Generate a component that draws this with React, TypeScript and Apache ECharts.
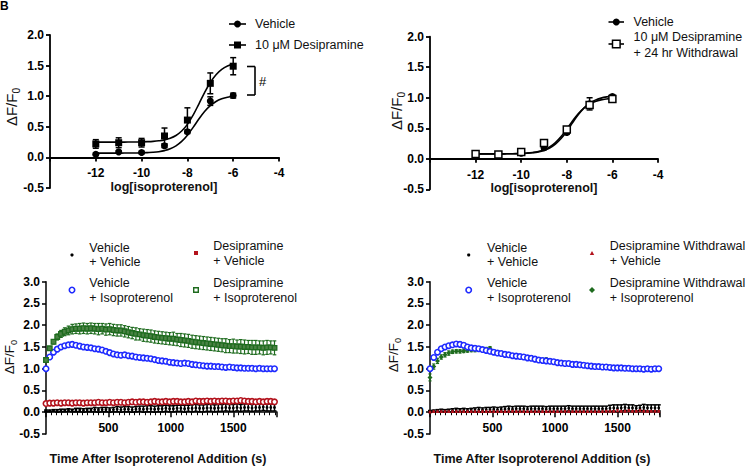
import React, { useEffect, useRef } from "react";
import * as echarts from "echarts";

const FONT = '"Liberation Sans", Arial, Helvetica, sans-serif';

// ---------- Panel A / B : concentration-response ----------
const logConc = [-12, -11, -10, -9, -8, -7, -6];
const aVehicle = [0.05, 0.09, 0.08, 0.19, 0.42, 0.92, 1.01];
const aVehicleErr = [0.02, 0.02, 0.02, 0.03, 0.03, 0.07, 0.04];
const aDesip = [0.22, 0.24, 0.24, 0.35, 0.61, 1.21, 1.49];
const aDesipErr = [0.07, 0.08, 0.07, 0.13, 0.2, 0.17, 0.14];
const fitX = [-12, -11.75, -11.5, -11.25, -11, -10.75, -10.5, -10.25, -10, -9.75, -9.5, -9.25, -9, -8.75, -8.5, -8.25, -8, -7.75, -7.5, -7.25, -7, -6.75, -6.5, -6.25, -6];
const aVehicleFit = [0.07, 0.07, 0.07, 0.07, 0.07, 0.071, 0.071, 0.072, 0.074, 0.078, 0.083, 0.093, 0.111, 0.14, 0.188, 0.261, 0.363, 0.491, 0.626, 0.75, 0.846, 0.914, 0.957, 0.984, 0.999];
const aDesipFit = [0.25, 0.25, 0.25, 0.25, 0.25, 0.25, 0.251, 0.252, 0.254, 0.257, 0.262, 0.271, 0.286, 0.313, 0.358, 0.431, 0.54, 0.691, 0.872, 1.059, 1.224, 1.351, 1.437, 1.492, 1.525];

const bVehicle = [0.07, 0.07, 0.09, 0.18, 0.43, 0.9, 1.02];
const bVehicleErr = [0.02, 0.02, 0.02, 0.03, 0.03, 0.1, 0.03];
const bWithdrawal = [0.08, 0.07, 0.11, 0.26, 0.48, 0.88, 0.98];
const bWithdrawalErr = [0.02, 0.02, 0.02, 0.04, 0.04, 0.05, 0.03];
const bVehicleFit = [0.08, 0.08, 0.08, 0.08, 0.08, 0.081, 0.082, 0.083, 0.086, 0.091, 0.099, 0.113, 0.137, 0.177, 0.24, 0.331, 0.451, 0.588, 0.72, 0.829, 0.909, 0.961, 0.994, 1.014, 1.025];
const bWithdrawalFit = [0.08, 0.08, 0.08, 0.08, 0.08, 0.081, 0.082, 0.084, 0.087, 0.093, 0.103, 0.119, 0.148, 0.194, 0.265, 0.364, 0.487, 0.619, 0.738, 0.832, 0.897, 0.939, 0.965, 0.98, 0.989];

// ---------- Panel C / D : time course ----------
const timeS = [0, 30, 60, 90, 120, 150, 180, 210, 240, 270, 300, 330, 360, 390, 420, 450, 480, 510, 540, 570, 600, 630, 660, 690, 720, 750, 780, 810, 840, 870, 900, 930, 960, 990, 1020, 1050, 1080, 1110, 1140, 1170, 1200, 1230, 1260, 1290, 1320, 1350, 1380, 1410, 1440, 1470, 1500, 1530, 1560, 1590, 1620, 1650, 1680, 1710, 1740, 1770, 1800, 1830];

const cVehVeh = [0.03, 0.03, 0.04, 0.03, 0.04, 0.04, 0.05, 0.04, 0.05, 0.05, 0.04, 0.05, 0.05, 0.06, 0.05, 0.06, 0.06, 0.05, 0.06, 0.07, 0.06, 0.07, 0.07, 0.06, 0.07, 0.08, 0.07, 0.08, 0.08, 0.07, 0.08, 0.08, 0.09, 0.08, 0.08, 0.09, 0.09, 0.08, 0.09, 0.09, 0.1, 0.09, 0.09, 0.1, 0.1, 0.09, 0.1, 0.1, 0.11, 0.1, 0.1, 0.11, 0.1, 0.11, 0.11, 0.1, 0.11, 0.11, 0.12, 0.11, 0.11, 0.11];
const cVehVehErr = [0.02, 0.02, 0.02, 0.03, 0.03, 0.03, 0.03, 0.03, 0.04, 0.04, 0.04, 0.04, 0.04, 0.05, 0.05, 0.05, 0.05, 0.05, 0.05, 0.06, 0.06, 0.06, 0.06, 0.06, 0.06, 0.06, 0.07, 0.07, 0.07, 0.07, 0.07, 0.07, 0.07, 0.07, 0.07, 0.07, 0.07, 0.08, 0.07, 0.08, 0.08, 0.08, 0.08, 0.08, 0.08, 0.08, 0.08, 0.08, 0.08, 0.08, 0.08, 0.08, 0.08, 0.08, 0.08, 0.08, 0.08, 0.08, 0.08, 0.08, 0.08, 0.08];
const cDesVeh = [0.2, 0.21, 0.21, 0.22, 0.21, 0.22, 0.22, 0.21, 0.22, 0.22, 0.21, 0.22, 0.22, 0.22, 0.23, 0.22, 0.22, 0.23, 0.22, 0.23, 0.23, 0.22, 0.23, 0.24, 0.23, 0.24, 0.24, 0.23, 0.24, 0.25, 0.24, 0.24, 0.25, 0.24, 0.25, 0.25, 0.24, 0.24, 0.25, 0.24, 0.26, 0.25, 0.25, 0.26, 0.25, 0.26, 0.25, 0.26, 0.26, 0.25, 0.26, 0.26, 0.27, 0.26, 0.25, 0.25, 0.24, 0.25, 0.24, 0.25, 0.25, 0.24];
const cDesVehErr = [0.03, 0.03, 0.03, 0.03, 0.03, 0.03, 0.03, 0.03, 0.03, 0.03, 0.03, 0.03, 0.03, 0.03, 0.03, 0.03, 0.03, 0.03, 0.03, 0.03, 0.03, 0.03, 0.03, 0.04, 0.03, 0.03, 0.04, 0.03, 0.03, 0.04, 0.03, 0.04, 0.04, 0.03, 0.04, 0.04, 0.03, 0.04, 0.04, 0.04, 0.04, 0.04, 0.04, 0.04, 0.04, 0.04, 0.04, 0.04, 0.04, 0.04, 0.04, 0.04, 0.04, 0.04, 0.04, 0.04, 0.04, 0.04, 0.04, 0.04, 0.04, 0.04];
const cVehIso = [1.0, 1.27, 1.38, 1.45, 1.5, 1.53, 1.55, 1.56, 1.54, 1.52, 1.5, 1.49, 1.48, 1.46, 1.45, 1.43, 1.4, 1.37, 1.34, 1.32, 1.31, 1.32, 1.3, 1.29, 1.27, 1.26, 1.25, 1.24, 1.23, 1.21, 1.19, 1.18, 1.17, 1.15, 1.14, 1.13, 1.12, 1.13, 1.12, 1.1, 1.09, 1.08, 1.07, 1.06, 1.06, 1.05, 1.05, 1.04, 1.03, 1.04, 1.03, 1.02, 1.02, 1.01, 1.01, 1.01, 1.0, 1.01, 1.0, 1.0, 1.0, 1.0];
const cVehIsoErr = [0.02, 0.03, 0.03, 0.04, 0.04, 0.04, 0.04, 0.05, 0.04, 0.04, 0.04, 0.05, 0.04, 0.04, 0.05, 0.04, 0.04, 0.05, 0.04, 0.04, 0.05, 0.04, 0.04, 0.04, 0.05, 0.04, 0.04, 0.04, 0.05, 0.04, 0.04, 0.05, 0.04, 0.04, 0.05, 0.04, 0.04, 0.05, 0.04, 0.04, 0.05, 0.04, 0.04, 0.05, 0.04, 0.04, 0.05, 0.04, 0.04, 0.05, 0.04, 0.04, 0.05, 0.04, 0.04, 0.05, 0.04, 0.04, 0.05, 0.04, 0.04, 0.05];
const cDesIso = [1.2, 1.47, 1.62, 1.73, 1.8, 1.85, 1.88, 1.91, 1.92, 1.92, 1.93, 1.92, 1.93, 1.92, 1.91, 1.92, 1.9, 1.91, 1.89, 1.88, 1.88, 1.86, 1.84, 1.82, 1.8, 1.79, 1.77, 1.76, 1.75, 1.73, 1.72, 1.71, 1.7, 1.69, 1.69, 1.67, 1.66, 1.65, 1.64, 1.62, 1.61, 1.6, 1.59, 1.58, 1.57, 1.56, 1.55, 1.54, 1.53, 1.52, 1.52, 1.51, 1.51, 1.5, 1.5, 1.49, 1.49, 1.49, 1.48, 1.49, 1.49, 1.48];
const cDesIsoErr = [0.03, 0.04, 0.05, 0.07, 0.08, 0.09, 0.1, 0.11, 0.11, 0.12, 0.12, 0.12, 0.12, 0.12, 0.13, 0.12, 0.13, 0.13, 0.13, 0.13, 0.13, 0.13, 0.13, 0.13, 0.14, 0.13, 0.14, 0.14, 0.14, 0.14, 0.14, 0.14, 0.14, 0.14, 0.15, 0.14, 0.15, 0.15, 0.15, 0.15, 0.15, 0.15, 0.15, 0.15, 0.15, 0.15, 0.15, 0.15, 0.16, 0.15, 0.16, 0.15, 0.16, 0.16, 0.15, 0.16, 0.16, 0.15, 0.16, 0.16, 0.15, 0.16];

const dVehVeh = [0.02, 0.03, 0.03, 0.04, 0.03, 0.04, 0.04, 0.05, 0.04, 0.05, 0.04, 0.05, 0.05, 0.06, 0.05, 0.06, 0.06, 0.07, 0.06, 0.07, 0.07, 0.08, 0.07, 0.08, 0.08, 0.08, 0.07, 0.08, 0.08, 0.08, 0.08, 0.07, 0.08, 0.08, 0.08, 0.08, 0.08, 0.09, 0.08, 0.08, 0.08, 0.08, 0.08, 0.08, 0.08, 0.08, 0.08, 0.08, 0.09, 0.1, 0.09, 0.1, 0.11, 0.1, 0.1, 0.09, 0.1, 0.11, 0.1, 0.1, 0.1, 0.1];
const dVehVehErr = [0.02, 0.02, 0.03, 0.03, 0.03, 0.03, 0.04, 0.04, 0.04, 0.04, 0.04, 0.04, 0.05, 0.05, 0.05, 0.05, 0.05, 0.05, 0.05, 0.05, 0.06, 0.06, 0.06, 0.06, 0.06, 0.06, 0.06, 0.06, 0.06, 0.06, 0.06, 0.06, 0.06, 0.06, 0.06, 0.06, 0.06, 0.06, 0.06, 0.06, 0.06, 0.06, 0.06, 0.06, 0.06, 0.06, 0.06, 0.06, 0.07, 0.07, 0.08, 0.07, 0.07, 0.07, 0.07, 0.06, 0.06, 0.07, 0.07, 0.07, 0.07, 0.07];
const dWdVeh = [0.01, 0.02, 0.02, 0.02, 0.02, 0.02, 0.02, 0.02, 0.02, 0.02, 0.02, 0.02, 0.02, 0.02, 0.02, 0.02, 0.02, 0.02, 0.02, 0.02, 0.02, 0.02, 0.03, 0.02, 0.02, 0.02, 0.02, 0.02, 0.02, 0.02, 0.02, 0.02, 0.02, 0.02, 0.02, 0.02, 0.03, 0.02, 0.02, 0.02, 0.02, 0.02, 0.02, 0.02, 0.02, 0.02, 0.02, 0.03, 0.03, 0.03, 0.04, 0.03, 0.03, 0.04, 0.03, 0.03, 0.04, 0.03, 0.03, 0.03, 0.03, 0.03];
const dWdVehErr = [0.01, 0.01, 0.01, 0.01, 0.01, 0.01, 0.01, 0.01, 0.01, 0.01, 0.01, 0.01, 0.01, 0.01, 0.01, 0.01, 0.01, 0.01, 0.01, 0.01, 0.01, 0.01, 0.01, 0.01, 0.01, 0.01, 0.01, 0.01, 0.01, 0.01, 0.01, 0.01, 0.01, 0.01, 0.01, 0.01, 0.01, 0.01, 0.01, 0.01, 0.01, 0.01, 0.01, 0.01, 0.01, 0.01, 0.01, 0.01, 0.01, 0.01, 0.02, 0.01, 0.01, 0.02, 0.01, 0.01, 0.02, 0.01, 0.01, 0.01, 0.01, 0.01];
const dVehIso = [1.0, 1.26, 1.38, 1.46, 1.5, 1.53, 1.55, 1.57, 1.56, 1.54, 1.5, 1.48, 1.47, 1.46, 1.44, 1.42, 1.4, 1.38, 1.36, 1.35, 1.33, 1.32, 1.3, 1.29, 1.28, 1.27, 1.25, 1.24, 1.22, 1.2, 1.19, 1.18, 1.17, 1.16, 1.14, 1.13, 1.12, 1.12, 1.1, 1.1, 1.09, 1.08, 1.07, 1.06, 1.05, 1.05, 1.04, 1.04, 1.03, 1.02, 1.02, 1.02, 1.01, 1.01, 1.0, 1.0, 1.0, 0.99, 1.0, 0.99, 1.0, 1.0];
const dVehIsoErr = [0.02, 0.03, 0.04, 0.04, 0.05, 0.05, 0.05, 0.05, 0.05, 0.05, 0.05, 0.05, 0.05, 0.05, 0.05, 0.05, 0.05, 0.05, 0.05, 0.05, 0.05, 0.05, 0.05, 0.05, 0.05, 0.05, 0.05, 0.05, 0.05, 0.05, 0.05, 0.05, 0.05, 0.05, 0.05, 0.05, 0.05, 0.05, 0.05, 0.05, 0.05, 0.05, 0.05, 0.05, 0.05, 0.05, 0.05, 0.05, 0.05, 0.05, 0.05, 0.05, 0.05, 0.05, 0.05, 0.05, 0.05, 0.05, 0.05, 0.05, 0.05, 0.05];
const dWdIso = [0.8, 1.05, 1.18, 1.27, 1.32, 1.36, 1.39, 1.4, 1.4, 1.41, 1.42, 1.43, 1.43, 1.44, 1.44, 1.45, 1.47, 1.39, 1.37, 1.34, 1.32, 1.31, 1.3, 1.28, 1.28, 1.27, 1.26, 1.25, 1.23, 1.21, 1.2, 1.21, 1.18, 1.16, 1.14, 1.13, 1.12, 1.12, 1.11, 1.1, 1.09, 1.08, 1.07, 1.06, 1.05, 1.05, 1.04, 1.04, 1.03, 1.02, 1.02, 1.02, 1.01, 1.01, 1.0, 1.0, 1.0, 0.99, 1.0, 0.99, 1.0, 1.0];
const dWdIsoErr = [0.08, 0.06, 0.06, 0.05, 0.05, 0.05, 0.04, 0.04, 0.04, 0.04, 0.04, 0.04, 0.04, 0.04, 0.04, 0.04, 0.04, 0.04, 0.04, 0.04, 0.04, 0.04, 0.04, 0.04, 0.04, 0.04, 0.04, 0.04, 0.04, 0.04, 0.04, 0.04, 0.04, 0.04, 0.04, 0.04, 0.04, 0.04, 0.04, 0.04, 0.04, 0.04, 0.04, 0.04, 0.04, 0.04, 0.04, 0.04, 0.04, 0.04, 0.04, 0.04, 0.04, 0.04, 0.04, 0.04, 0.04, 0.04, 0.04, 0.04, 0.04, 0.04];

const BLACK = "#000000";
const BLUE = "#1f2bff";
const RED = "#b3121c";
const GREEN = "#1e6b1e";

const zip = (xs: number[], ys: number[]) => xs.map((x, i) => [x, ys[i]]);

function errSeries(gi: number, xs: number[], ys: number[], es: number[], color: string, cap: number, lw: number, z: number) {
  return {
    type: "custom",
    xAxisIndex: gi,
    yAxisIndex: gi,
    z,
    silent: true,
    clip: false,
    data: xs.map((x, i) => [x, ys[i] - es[i], ys[i] + es[i]]),
    encode: { x: 0, y: [1, 2] },
    renderItem: (_p: any, api: any) => {
      const lo = api.coord([api.value(0), api.value(1)]);
      const hi = api.coord([api.value(0), api.value(2)]);
      const st = { stroke: color, lineWidth: lw };
      return {
        type: "group",
        children: [
          { type: "line", shape: { x1: lo[0], y1: lo[1], x2: hi[0], y2: hi[1] }, style: st },
          { type: "line", shape: { x1: hi[0] - cap, y1: hi[1], x2: hi[0] + cap, y2: hi[1] }, style: st },
          { type: "line", shape: { x1: lo[0] - cap, y1: lo[1], x2: lo[0] + cap, y2: lo[1] }, style: st },
        ],
      };
    },
  };
}

function scatter(gi: number, xs: number[], ys: number[], symbol: string, size: number, fill: string, stroke: string, bw: number, z: number) {
  return {
    type: "scatter",
    xAxisIndex: gi,
    yAxisIndex: gi,
    z,
    silent: true,
    symbol,
    symbolSize: size,
    itemStyle: { color: fill, borderColor: stroke, borderWidth: bw, opacity: 1 },
    data: zip(xs, ys),
  };
}

function fitLine(gi: number, xs: number[], ys: number[]) {
  return {
    type: "line",
    xAxisIndex: gi,
    yAxisIndex: gi,
    z: 2,
    silent: true,
    smooth: 0.4,
    showSymbol: false,
    symbol: "none",
    lineStyle: { color: BLACK, width: 1.6 },
    data: zip(xs, ys),
  };
}

function yAxisOf(gi: number, max: number, lw: number) {
  return {
    type: "value",
    gridIndex: gi,
    min: -0.5,
    max,
    interval: 0.5,
    axisLine: { show: true, onZero: false, lineStyle: { color: BLACK, width: lw } },
    axisTick: { show: true, length: 4, lineStyle: { color: BLACK, width: lw } },
    axisLabel: {
      color: BLACK, fontFamily: FONT, fontWeight: "bold", fontSize: 12, margin: 6,
      formatter: (v: number) => v.toFixed(1),
    },
    splitLine: { show: false },
  };
}

// x axis sits at y = 0: offset it upward from the grid bottom by the share of the -0.5..0 band
function xAxisTop(gi: number, gridH: number) {
  return {
    type: "value",
    gridIndex: gi,
    position: "bottom",
    offset: -(gridH * 0.5) / 2.5,
    min: -14,
    max: -4,
    interval: 2,
    axisLine: { show: true, onZero: false, lineStyle: { color: BLACK, width: 1.8 } },
    axisTick: { show: true, length: 4, lineStyle: { color: BLACK, width: 1.8 } },
    axisLabel: {
      color: BLACK, fontFamily: FONT, fontWeight: "bold", fontSize: 12, margin: 10,
      formatter: (v: number) => (v === -14 ? "" : String(v)),
    },
    splitLine: { show: false },
  };
}

function xAxisTime(gi: number, max: number, gridH: number) {
  return {
    type: "value",
    gridIndex: gi,
    position: "bottom",
    offset: -(gridH * 0.5) / 3.5,
    min: 0,
    max,
    interval: 500,
    axisLine: { show: true, onZero: false, lineStyle: { color: BLACK, width: 1.5 } },
    axisTick: { show: true, length: 5, lineStyle: { color: BLACK, width: 1.5 } },
    minorTick: { show: true, splitNumber: 12, length: 3, lineStyle: { color: BLACK, width: 1 } },
    axisLabel: {
      color: BLACK, fontFamily: FONT, fontWeight: "bold", fontSize: 12, margin: 10,
      formatter: (v: number) => (v > 0 && v % 500 === 0 ? String(v) : ""),
    },
    splitLine: { show: false },
    minorSplitLine: { show: false },
  };
}

const txt = (x: number, y: number, text: string, extra: any = {}) => ({
  type: "text",
  x,
  y,
  silent: true,
  style: {
    text,
    fill: "#111",
    font: `12.5px ${FONT}`,
    textAlign: "left",
    textVerticalAlign: "middle",
    ...extra,
  },
});

const yTitle = (x: number, y: number, size: number) => ({
  type: "text",
  x,
  y,
  rotation: Math.PI / 2,
  silent: true,
  style: {
    text: "{m|ΔF/F}{s|0}",
    textAlign: "center",
    textVerticalAlign: "middle",
    rich: {
      m: { fontFamily: FONT, fontSize: size, fill: "#111", lineHeight: size + 6, verticalAlign: "middle" },
      s: { fontFamily: FONT, fontSize: size * 0.68, fill: "#111", verticalAlign: "bottom", lineHeight: size * 0.9 },
    },
  },
});

const xTitle = (x: number, y: number, text: string) => ({
  type: "text",
  x,
  y,
  silent: true,
  style: {
    text,
    fill: "#111",
    font: `bold 12.5px ${FONT}`,
    textAlign: "center",
    textVerticalAlign: "middle",
  },
});

const lineEl = (x1: number, y1: number, x2: number, y2: number, w = 1.6) => ({
  type: "line",
  silent: true,
  shape: { x1, y1, x2, y2 },
  style: { stroke: BLACK, lineWidth: w },
});

const GRID_A = { left: 50, top: 35, width: 229, height: 153 };
const GRID_B = { left: 430, top: 36.7, width: 228, height: 152.6 };
const GRID_C = { left: 46, top: 281.7, width: 231, height: 152.3 };
const GRID_D = { left: 430, top: 281.7, width: 230, height: 152.3 };

export default function App() {
  const ref = useRef<HTMLDivElement>(null);
  useEffect(() => {
    if (!ref.current) return;
    const chart = echarts.init(ref.current, null, { renderer: "svg" });

    const graphic: any[] = [
      // panel letter (cropped in the source)
      { type: "text", x: 0, y: 0, silent: true, style: { text: "B", font: `bold 12px ${FONT}`, fill: "#000" } },
      // axis titles
      yTitle(11, 107, 15),
      yTitle(396, 111, 15),
      yTitle(9, 357, 13.5),
      yTitle(393, 355, 13.5),
      xTitle(164, 187, "log[isoproterenol]"),
      xTitle(544, 188, "log[isoproterenol]"),
      xTitle(158, 459, "Time After Isoproterenol Addition (s)"),
      xTitle(542, 459, "Time After Isoproterenol Addition (s)"),
      // significance bracket panel A
      lineEl(247, 66.5, 255, 66.5),
      lineEl(255, 66.5, 255, 95),
      lineEl(247, 95, 255, 95),
      txt(259, 81, "#", { font: `13px ${FONT}`, fill: "#000" }),
      // legend A
      lineEl(229, 24, 246, 24),
      { type: "circle", silent: true, shape: { cx: 237.5, cy: 24, r: 3.5 }, style: { fill: BLACK } },
      txt(255, 24, "Vehicle"),
      lineEl(229, 45, 246, 45),
      { type: "rect", silent: true, shape: { x: 234, y: 41.5, width: 7, height: 7 }, style: { fill: BLACK } },
      txt(255, 45, "10 μM Desipramine"),
      // legend B
      lineEl(608.5, 22, 624, 22),
      { type: "circle", silent: true, shape: { cx: 616.3, cy: 22, r: 3.5 }, style: { fill: BLACK } },
      txt(633.5, 22, "Vehicle"),
      lineEl(608.5, 44, 624, 44),
      { type: "rect", silent: true, shape: { x: 612.5, y: 40.2, width: 7.6, height: 7.6 }, style: { fill: "#fff", stroke: BLACK, lineWidth: 1.5 } },
      txt(633.5, 45, "10 μM Desipramine\n+ 24 hr Withdrawal", { lineHeight: 15.5 }),
      // legend C
      { type: "circle", silent: true, shape: { cx: 72, cy: 255, r: 1.6 }, style: { fill: BLACK } },
      txt(89.3, 255, "Vehicle\n+ Vehicle", { lineHeight: 14.6 }),
      { type: "circle", silent: true, shape: { cx: 72, cy: 290, r: 2.7 }, style: { fill: "#fff", stroke: BLUE, lineWidth: 1.6 } },
      txt(89.3, 290.5, "Vehicle\n+ Isoproterenol", { lineHeight: 14.4 }),
      { type: "rect", silent: true, shape: { x: 194, y: 251, width: 4, height: 4 }, style: { fill: RED } },
      txt(213.3, 253.2, "Desipramine\n+ Vehicle", { lineHeight: 15 }),
      { type: "rect", silent: true, shape: { x: 193.7, y: 287.7, width: 4.6, height: 4.6 }, style: { fill: "#fff", stroke: GREEN, lineWidth: 1.4 } },
      txt(213.3, 290.2, "Desipramine\n+ Isoproterenol", { lineHeight: 15 }),
      // legend D
      { type: "circle", silent: true, shape: { cx: 468.7, cy: 255, r: 1.6 }, style: { fill: BLACK } },
      txt(487, 255, "Vehicle\n+ Vehicle", { lineHeight: 14.6 }),
      { type: "circle", silent: true, shape: { cx: 468.7, cy: 290, r: 2.7 }, style: { fill: "#fff", stroke: BLUE, lineWidth: 1.6 } },
      txt(487, 290.5, "Vehicle\n+ Isoproterenol", { lineHeight: 14.4 }),
      { type: "polygon", silent: true, shape: { points: [[592, 251], [594.2, 255], [589.8, 255]] }, style: { fill: RED } },
      txt(609.7, 253.2, "Desipramine Withdrawal\n+ Vehicle", { lineHeight: 15 }),
      { type: "polygon", silent: true, shape: { points: [[592, 287], [595, 290], [592, 293], [589, 290]] }, style: { fill: GREEN } },
      txt(609.7, 290.2, "Desipramine Withdrawal\n+ Isoproterenol", { lineHeight: 15 }),
    ];

    const series: any[] = [
      // Panel A
      fitLine(0, fitX, aVehicleFit),
      fitLine(0, fitX, aDesipFit),
      errSeries(0, logConc, aVehicle, aVehicleErr, BLACK, 3, 1.5, 3),
      errSeries(0, logConc, aDesip, aDesipErr, BLACK, 3, 1.5, 3),
      scatter(0, logConc, aVehicle, "circle", 7, BLACK, BLACK, 0, 4),
      scatter(0, logConc, aDesip, "rect", 7, BLACK, BLACK, 0, 4),
      // Panel B
      fitLine(1, fitX, bVehicleFit),
      fitLine(1, fitX, bWithdrawalFit),
      errSeries(1, logConc, bVehicle, bVehicleErr, BLACK, 3, 1.5, 3),
      errSeries(1, logConc, bWithdrawal, bWithdrawalErr, BLACK, 3, 1.5, 3),
      scatter(1, logConc, bVehicle, "circle", 7, BLACK, BLACK, 0, 4),
      scatter(1, logConc, bWithdrawal, "rect", 7, "#ffffff", BLACK, 1.5, 5),
      // Panel C
      errSeries(2, timeS, cVehVeh, cVehVehErr, BLACK, 2, 1.5, 3),
      scatter(2, timeS, cVehVeh, "circle", 2.8, BLACK, BLACK, 0, 4),
      errSeries(2, timeS, cDesVeh, cDesVehErr, RED, 1.6, 1, 5),
      scatter(2, timeS, cDesVeh, "circle", 5.4, "#ffffff", RED, 1.6, 6),
      errSeries(2, timeS, cVehIso, cVehIsoErr, BLUE, 1.6, 1, 5),
      scatter(2, timeS, cVehIso, "circle", 5.4, "#ffffff", BLUE, 1.6, 6),
      errSeries(2, timeS, cDesIso, cDesIsoErr, GREEN, 1.8, 1.2, 5),
      scatter(2, timeS, cDesIso, "rect", 4.6, "#4a8244", GREEN, 1.3, 6),
      // Panel D
      errSeries(3, timeS, dVehVeh, dVehVehErr, BLACK, 2, 1.5, 3),
      scatter(3, timeS, dVehVeh, "circle", 2.8, BLACK, BLACK, 0, 4),
      errSeries(3, timeS, dWdVeh, dWdVehErr, RED, 1.2, 1, 5),
      scatter(3, timeS, dWdVeh, "triangle", 3.5, RED, RED, 0, 6),
      errSeries(3, timeS, dWdIso, dWdIsoErr, GREEN, 1.6, 1.1, 5),
      scatter(3, timeS, dWdIso, "diamond", 5, GREEN, GREEN, 0, 6),
      errSeries(3, timeS, dVehIso, dVehIsoErr, BLUE, 1.6, 1, 7),
      scatter(3, timeS, dVehIso, "circle", 5.4, "#ffffff", BLUE, 1.6, 8),
    ];

    chart.setOption({
      animation: false,
      backgroundColor: "#ffffff",
      textStyle: { fontFamily: FONT },
      grid: [GRID_A, GRID_B, GRID_C, GRID_D],
      xAxis: [
        xAxisTop(0, GRID_A.height),
        xAxisTop(1, GRID_B.height),
        xAxisTime(2, 1850, GRID_C.height),
        xAxisTime(3, 1840, GRID_D.height),
      ],
      yAxis: [yAxisOf(0, 2, 1.8), yAxisOf(1, 2, 1.8), yAxisOf(2, 3, 1.5), yAxisOf(3, 3, 1.5)],
      series,
      graphic,
    });
    return () => chart.dispose();
  }, []);
  return <div ref={ref} style={{ width: 745, height: 467, position: "absolute", left: 0, top: 0 }} />;
}
